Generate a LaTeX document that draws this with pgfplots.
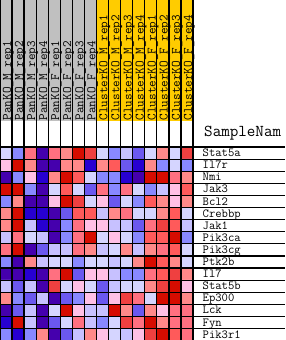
\documentclass[border=0pt]{standalone}
\usepackage{fontspec}
\usepackage{pgfplots}
\pgfplotsset{compat=1.18}
\definecolor{hdrgray}{RGB}{192,192,192}
\definecolor{hdrgold}{RGB}{255,204,0}
\newcommand{\hdr}[2]{\node[rotate=90,anchor=base west,inner sep=0pt,font=\ttfamily\fontsize{12.8}{13}\selectfont] at (axis cs:{(#1-1)*12.0625+10.9},120.5) {#2};}
\newcommand{\gene}[2]{\node[anchor=base west,inner sep=0pt,font=\ttfamily\fontsize{12.3}{13}\selectfont] at (axis cs:202.5,{147+#1*12.1-2.5}) {#2};}
\begin{document}
\begin{tikzpicture}
\begin{axis}[
  width=285pt, height=340pt, scale only axis,
  xmin=0, xmax=285, ymin=0, ymax=340, y dir=reverse,
  hide axis,
  colormap={gsea}{rgb255=(69,0,173) rgb255=(39,0,209) rgb255=(107,88,239) rgb255=(136,136,255) rgb255=(199,193,255) rgb255=(213,213,255) rgb255=(255,192,229) rgb255=(255,137,137) rgb255=(255,112,128) rgb255=(255,90,90) rgb255=(239,64,64) rgb255=(214,12,0)},
  colormap access=direct,
]
\fill[hdrgray] (axis cs:0,0) rectangle (axis cs:96.5,121);
\fill[hdrgold] (axis cs:96.5,0) rectangle (axis cs:193,121);
% (column, row) [colour class 0 = deep blue ... 11 = deep red]
\addplot[matrix plot*, mesh/cols=16, point meta=explicit, draw=none,
  x filter/.expression={x*12.0625-6.03125},
  y filter/.expression={147+(y-0.5)*12.1}] coordinates {
(1,1)[5] (2,1)[3] (3,1)[8] (4,1)[0] (5,1)[8] (6,1)[7] (7,1)[11] (8,1)[10] (9,1)[5] (10,1)[3] (11,1)[4] (12,1)[2] (13,1)[5] (14,1)[7] (15,1)[5] (16,1)[10]
(1,2)[6] (2,2)[11] (3,2)[7] (4,2)[0] (5,2)[0] (6,2)[7] (7,2)[7] (8,2)[1] (9,2)[7] (10,2)[9] (11,2)[2] (12,2)[1] (13,2)[7] (14,2)[3] (15,2)[5] (16,2)[3]
(1,3)[0] (2,3)[3] (3,3)[6] (4,3)[1] (5,3)[7] (6,3)[11] (7,3)[9] (8,3)[5] (9,3)[3] (10,3)[3] (11,3)[1] (12,3)[0] (13,3)[11] (14,3)[11] (15,3)[8] (16,3)[7]
(1,4)[11] (2,4)[11] (3,4)[3] (4,4)[0] (5,4)[5] (6,4)[9] (7,4)[5] (8,4)[2] (9,4)[8] (10,4)[3] (11,4)[8] (12,4)[5] (13,4)[3] (14,4)[4] (15,4)[6] (16,4)[9]
(1,5)[3] (2,5)[7] (3,5)[0] (4,5)[0] (5,5)[6] (6,5)[11] (7,5)[10] (8,5)[5] (9,5)[6] (10,5)[2] (11,5)[5] (12,5)[3] (13,5)[9] (14,5)[7] (15,5)[6] (16,5)[7]
(1,6)[7] (2,6)[11] (3,6)[1] (4,6)[1] (5,6)[0] (6,6)[2] (7,6)[9] (8,6)[9] (9,6)[4] (10,6)[7] (11,6)[8] (12,6)[5] (13,6)[5] (14,6)[7] (15,6)[9] (16,6)[5]
(1,7)[7] (2,7)[11] (3,7)[4] (4,7)[1] (5,7)[0] (6,7)[3] (7,7)[8] (8,7)[6] (9,7)[6] (10,7)[4] (11,7)[4] (12,7)[2] (13,7)[8] (14,7)[10] (15,7)[9] (16,7)[4]
(1,8)[4] (2,8)[8] (3,8)[5] (4,8)[4] (5,8)[0] (6,8)[3] (7,8)[8] (8,8)[11] (9,8)[5] (10,8)[6] (11,8)[5] (12,8)[3] (13,8)[9] (14,8)[9] (15,8)[11] (16,8)[3]
(1,9)[8] (2,9)[11] (3,9)[0] (4,9)[2] (5,9)[4] (6,9)[4] (7,9)[8] (8,9)[7] (9,9)[4] (10,9)[5] (11,9)[7] (12,9)[4] (13,9)[7] (14,9)[8] (15,9)[9] (16,9)[5]
(1,10)[3] (2,10)[0] (3,10)[7] (4,10)[4] (5,10)[5] (6,10)[5] (7,10)[3] (8,10)[5] (9,10)[5] (10,10)[4] (11,10)[5] (12,10)[7] (13,10)[11] (14,10)[9] (15,10)[7] (16,10)[5]
(1,11)[0] (2,11)[0] (3,11)[1] (4,11)[0] (5,11)[8] (6,11)[11] (7,11)[2] (8,11)[6] (9,11)[6] (10,11)[4] (11,11)[3] (12,11)[3] (13,11)[8] (14,11)[9] (15,11)[10] (16,11)[7]
(1,12)[4] (2,12)[2] (3,12)[4] (4,12)[0] (5,12)[10] (6,12)[5] (7,12)[6] (8,12)[5] (9,12)[2] (10,12)[4] (11,12)[5] (12,12)[5] (13,12)[7] (14,12)[10] (15,12)[11] (16,12)[6]
(1,13)[7] (2,13)[3] (3,13)[2] (4,13)[4] (5,13)[0] (6,13)[2] (7,13)[3] (8,13)[6] (9,13)[2] (10,13)[6] (11,13)[10] (12,13)[8] (13,13)[5] (14,13)[11] (15,13)[11] (16,13)[7]
(1,14)[0] (2,14)[2] (3,14)[4] (4,14)[0] (5,14)[5] (6,14)[11] (7,14)[6] (8,14)[4] (9,14)[4] (10,14)[11] (11,14)[7] (12,14)[2] (13,14)[7] (14,14)[6] (15,14)[8] (16,14)[8]
(1,15)[1] (2,15)[11] (3,15)[4] (4,15)[0] (5,15)[2] (6,15)[5] (7,15)[8] (8,15)[4] (9,15)[3] (10,15)[5] (11,15)[10] (12,15)[8] (13,15)[11] (14,15)[7] (15,15)[8] (16,15)[8]
(1,16)[3] (2,16)[1] (3,16)[3] (4,16)[7] (5,16)[0] (6,16)[2] (7,16)[4] (8,16)[7] (9,16)[6] (10,16)[5] (11,16)[4] (12,16)[6] (13,16)[10] (14,16)[11] (15,16)[9] (16,16)[8]
};
\pgfplotsinvokeforeach{0,...,16}{
  \draw[black,line width=1.3pt] (axis cs:{#1*12.0625},0) -- (axis cs:{#1*12.0625},340);
  \draw[black,line width=1.2pt] (axis cs:0,{147+#1*12.1}) -- (axis cs:285,{147+#1*12.1});
}
\hdr{1}{PanKO\_M\_rep1}
\hdr{2}{PanKO\_M\_rep2}
\hdr{3}{PanKO\_M\_rep3}
\hdr{4}{PanKO\_M\_rep4}
\hdr{5}{PanKO\_F\_rep1}
\hdr{6}{PanKO\_F\_rep2}
\hdr{7}{PanKO\_F\_rep3}
\hdr{8}{PanKO\_F\_rep4}
\hdr{9}{ClusterKO\_M\_rep1}
\hdr{10}{ClusterKO\_M\_rep2}
\hdr{11}{ClusterKO\_M\_rep3}
\hdr{12}{ClusterKO\_M\_rep4}
\hdr{13}{ClusterKO\_F\_rep1}
\hdr{14}{ClusterKO\_F\_rep2}
\hdr{15}{ClusterKO\_F\_rep3}
\hdr{16}{ClusterKO\_F\_rep4}
\node[anchor=base west,inner sep=0pt,font=\ttfamily\fontsize{16.6}{17}\selectfont] at (axis cs:204,136) {SampleNam};
\gene{1}{Stat5a}
\gene{2}{Il7r}
\gene{3}{Nmi}
\gene{4}{Jak3}
\gene{5}{Bcl2}
\gene{6}{Crebbp}
\gene{7}{Jak1}
\gene{8}{Pik3ca}
\gene{9}{Pik3cg}
\gene{10}{Ptk2b}
\gene{11}{Il7}
\gene{12}{Stat5b}
\gene{13}{Ep300}
\gene{14}{Lck}
\gene{15}{Fyn}
\gene{16}{Pik3r1}
\end{axis}
\pgfresetboundingbox
\path[use as bounding box] (current axis.south west) rectangle (current axis.north east);
\end{tikzpicture}
\end{document}
